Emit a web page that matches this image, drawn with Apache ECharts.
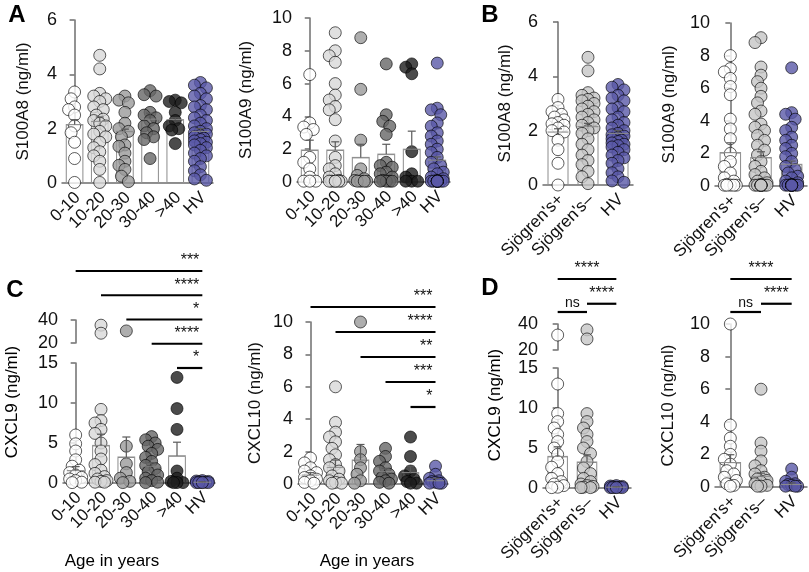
<!DOCTYPE html>
<html>
<head>
<meta charset="utf-8">
<script src="https://cdn.jsdelivr.net/npm/echarts@6/dist/echarts.min.js"></script>
<style>
  html, body { margin: 0; padding: 0; background: #fff; }
  #chart { width: 809px; height: 572px; }
</style>
</head>
<body>
<div id="chart"></div>
<script>
// groups
const ageGroups = ['0-10', '10-20', '20-30', '30-40', '>40', 'HV'];
const sjGroups = ["Sjögren's+", "Sjögren's–", 'HV'];

// healthy volunteers, shared by the age and Sjögren's panels
const hvS100a8 = [3.7, 3.6, 3.5, 3.3, 3.2, 3.1, 2.85, 2.8, 2.7, 2.5, 2.4, 2.3, 2.2, 2.1, 2.0, 1.9, 1.85, 1.8, 1.75, 1.7, 1.65, 1.6, 1.55, 1.5, 1.45, 1.4, 1.3, 1.2, 1.1, 1.0, 0.9, 0.8, 0.6, 0.45, 0.3, 0.15, 0.1];
const hvS100a9 = [7.25, 4.5, 4.4, 4.1, 3.6, 3.4, 3.0, 2.8, 2.5, 2.3, 2.0, 1.8, 1.5, 1.2, 1.0, 0.8, 0.6, 0.5, 0.3, 0.2, 0.1, 0.05, 0.05, 0.05, 0.05, 0.05, 0.05, 0.05, 0.05, 0.05, 0.05];
const hvCxcl9 = [0.3, 0.25, 0.2, 0.15, 0.1, 0.1, 0.05, 0.05, 0.05, 0.05];
const hvCxcl10 = [1.1, 0.6, 0.35, 0.2, 0.15, 0.1, 0.05, 0.05, 0.05];

// individual values (ng/ml), one list per group
const s100a8Age = [
  [3.35, 3.1, 2.8, 2.7, 2.5, 2.1, 1.85, 1.5, 0.9, 0.02],
  [4.7, 4.2, 3.3, 3.2, 3.1, 3.0, 2.8, 2.7, 2.5, 2.35, 2.3, 2.2, 2.1, 1.9, 1.8, 1.7, 1.5, 1.3, 1.15, 1.0, 0.8, 0.5, 0.02],
  [3.2, 3.05, 2.95, 2.6, 2.2, 2.0, 1.9, 1.7, 1.4, 1.35, 1.1, 0.8, 0.65, 0.5, 0.25, 0.05],
  [3.4, 3.25, 3.2, 2.6, 2.5, 2.4, 2.3, 2.1, 2.0, 1.85, 1.7, 1.6, 0.9],
  [3.05, 3.0, 2.95, 2.6, 2.3, 2.1, 2.0, 1.95, 1.45],
  hvS100a8
];
const s100a9Age = [
  [6.55, 3.6, 3.35, 3.2, 2.9, 1.5, 1.2, 0.8, 0.3, 0.05, 0.05, 0.05],
  [9.1, 8.0, 7.7, 7.3, 6.0, 5.3, 5.0, 4.6, 4.4, 3.8, 2.5, 1.5, 1.0, 0.8, 0.5, 0.3, 0.1, 0.05, 0.05, 0.05, 0.05, 0.05, 0.05],
  [8.8, 5.65, 2.55, 0.8, 0.4, 0.2, 0.1, 0.05, 0.05, 0.05, 0.05],
  [7.2, 4.1, 3.7, 3.4, 2.9, 1.2, 1.0, 0.9, 0.6, 0.5, 0.3, 0.1, 0.05, 0.05, 0.05, 0.05],
  [7.2, 7.0, 6.6, 1.85, 0.5, 0.3, 0.05, 0.05, 0.05],
  hvS100a9
];
const s100a8Sj = [
  [3.15, 2.85, 2.7, 2.6, 2.5, 2.4, 2.3, 2.25, 2.2, 2.1, 2.0, 1.95, 1.65, 1.3, 0.8, 0.0],
  [4.7, 4.2, 3.4, 3.3, 3.2, 3.15, 3.1, 3.0, 2.9, 2.8, 2.7, 2.6, 2.5, 2.4, 2.3, 2.2, 2.1, 2.0, 1.9, 1.7, 1.5, 1.3, 1.1, 0.9, 0.75, 0.5, 0.3, 0.05],
  hvS100a8
];
const s100a9Sj = [
  [8.0, 7.2, 7.0, 6.6, 6.1, 5.6, 4.1, 3.5, 2.9, 2.0, 1.5, 1.2, 0.8, 0.5, 0.3, 0.1, 0.05, 0.05, 0.05, 0.05, 0.05],
  [9.1, 8.8, 7.3, 6.8, 6.4, 6.0, 5.5, 5.1, 4.6, 4.4, 3.8, 3.6, 3.4, 3.1, 2.8, 2.5, 2.2, 1.9, 1.5, 1.2, 0.9, 0.7, 0.5, 0.3, 0.2, 0.1, 0.05, 0.05, 0.05, 0.05, 0.05, 0.05, 0.05, 0.05, 0.05],
  hvS100a9
];
const cxcl9Age = [
  [6.0, 4.9, 4.0, 2.9, 2.1, 1.6, 1.3, 1.0, 0.7, 0.5, 0.3, 0.1, 0.05],
  [35.5, 28.5, 9.2, 7.8, 7.5, 6.7, 6.2, 5.0, 4.0, 3.0, 2.3, 1.6, 1.2, 0.8, 0.5, 0.3, 0.2, 0.1, 0.1],
  [30.5, 4.6, 2.4, 1.3, 0.6, 0.2, 0.05],
  [5.8, 5.4, 5.0, 4.6, 4.2, 3.7, 3.2, 2.7, 2.2, 1.8, 1.4, 1.0, 0.6, 0.3, 0.1, 0.05],
  [13.2, 9.3, 6.7, 1.5, 0.6, 0.2, 0.05, 0.05, 0.05],
  hvCxcl9
];
const cxcl10Age = [
  [1.6, 1.3, 1.0, 0.8, 0.7, 0.5, 0.4, 0.3, 0.2, 0.1, 0.05],
  [6.0, 3.8, 3.2, 2.9, 2.6, 2.2, 1.8, 1.5, 1.2, 1.0, 0.8, 0.5, 0.3, 0.2, 0.1, 0.05, 0.05],
  [10.0, 2.0, 1.5, 1.0, 0.6, 0.2, 0.05],
  [2.2, 1.7, 1.4, 1.0, 0.8, 0.6, 0.4, 0.3, 0.2, 0.1, 0.05],
  [2.9, 1.7, 0.8, 0.5, 0.3, 0.15, 0.05, 0.05],
  hvCxcl10
];
const cxcl9Sj = [
  [31.5, 13.0, 9.3, 8.3, 7.5, 6.7, 5.8, 5.0, 4.2, 3.3, 2.6, 1.8, 1.2, 0.8, 0.5, 0.3, 0.1, 0.05],
  [35.5, 28.5, 9.3, 8.3, 7.5, 6.7, 5.8, 5.0, 4.3, 3.3, 2.5, 1.8, 1.2, 0.8, 0.5, 0.3, 0.2, 0.1, 0.05, 0.05],
  hvCxcl9
];
const cxcl10Sj = [
  [10.0, 3.8, 3.0, 2.5, 2.0, 1.7, 1.4, 1.0, 0.8, 0.6, 0.4, 0.2, 0.1, 0.05],
  [6.0, 2.7, 2.2, 1.6, 1.3, 1.0, 0.8, 0.6, 0.5, 0.4, 0.3, 0.2, 0.1, 0.05, 0.05],
  hvCxcl10
];

// bar heights (mean) and error bars (SEM)
const s100a8AgeMean = [2.15, 2.27, 1.9, 2.35, 2.33, 1.9];
const s100a8AgeSem = [0.18, 0.16, 0.08, 0.22, 0.07, 0.1];
const s100a9AgeMean = [1.95, 1.95, 1.5, 1.7, 2.0, 1.33];
const s100a9AgeSem = [0.6, 0.5, 0.8, 0.6, 1.1, 0.2];
const s100a8SjMean = [1.95, 2.15, 1.9];
const s100a8SjSem = [0.12, 0.12, 0.1];
const s100a9SjMean = [2.05, 1.75, 1.33];
const s100a9SjSem = [0.6, 0.35, 0.2];
const cxcl9AgeMean = [1.55, 4.7, 3.25, 2.1, 3.4, 0.1];
const cxcl9AgeSem = [0.5, 1.4, 2.5, 0.45, 1.7, 0.05];
const cxcl10AgeMean = [0.55, 1.03, 1.48, 0.76, 0.7, 0.2];
const cxcl10AgeSem = [0.15, 0.45, 0.96, 0.21, 0.4, 0.15];
const cxcl9SjMean = [3.95, 3.25, 0.1];
const cxcl9SjSem = [1.2, 0.9, 0.05];
const cxcl10SjMean = [1.5, 0.65, 0.15];
const cxcl10SjSem = [0.48, 0.2, 0.1];

// significance bars: [from group, to group, level]
const cxcl9AgeSig = [[0, 5, 4], [1, 5, 3], [2, 5, 2], [3, 5, 1], [4, 5, 0]];
const cxcl9AgeSigText = ['***', '****', '*', '****', '*'];
const cxcl10AgeSig = [[0, 5, 4], [1, 5, 3], [2, 5, 2], [3, 5, 1], [4, 5, 0]];
const cxcl10AgeSigText = ['***', '****', '**', '***', '*'];
const cxcl9SjSig = [[0, 2, 2], [0, 1, 0], [1, 2, 0.5]];
const cxcl9SjSigText = ['****', 'ns', '****'];
const cxcl10SjSig = [[0, 2, 2], [0, 1, 0], [1, 2, 0.5]];
const cxcl10SjSigText = ['****', 'ns', '****'];

const ageColors = ['#ffffff', '#d8d8d8', '#9a9a9a', '#666666', '#1e1e1e', '#5a59a8'];
const sjColors = ['#ffffff', '#c6c6c6', '#5a59a8'];

const FONT = "'Liberation Sans', Arial, sans-serif";
const AXIS = '#6e6e6e';
const DOT = 12;

let chart = echarts.init(document.getElementById('chart'));

const grids = [], xAxes = [], yAxes = [], series = [];

function addGrid(box) {
  return grids.push({ left: box[0], top: box[1], width: box[2], height: box[3], outerBoundsMode: 'none', containLabel: false }) - 1;
}

function valueY(g, min, max, step, show) {
  return {
    type: 'value', gridIndex: g, min: min, max: max, interval: step, show: show,
    axisLine: { show: true, lineStyle: { color: AXIS, width: 1.5 } },
    axisTick: { show: true, length: 5, lineStyle: { color: AXIS, width: 1.5 } },
    axisLabel: { fontSize: 18, color: '#111', margin: 5, fontFamily: FONT },
    splitLine: { show: false }
  };
}

// simple beeswarm: nudge dots sideways when they would overlap too much
function swarm(groups, colors, keep, yMin, pxY, pxCat) {
  const out = [];
  groups.forEach((vals, gi) => {
    const placed = [];
    vals.filter(keep).slice().sort((a, b) => b - a).forEach(v => {
      const y = (v - yMin) * pxY;
      let best = 0, bestD = -1;
      for (const c of [0, -3.5, 3.5, -6, 6]) {
        let d = Infinity;
        placed.forEach(q => { d = Math.min(d, Math.hypot(q[0] - c, q[1] - y)); });
        if (d >= 7) { best = c; break; }
        if (d > bestD) { bestD = d; best = c; }
      }
      placed.push([best, y]);
      out.push({ value: [gi + best / pxCat, v], itemStyle: { color: colors[gi] } });
    });
  });
  return out;
}

function errorBar(params, api) {
  const i = api.value(0), m = api.value(1), s = api.value(2);
  const base = api.coord([i, m]);
  const top = api.coord([i, m + s]);
  const bw = api.size([1, 0])[0] * 0.7;
  const st = { stroke: '#5a5a5a', lineWidth: 1.2 };
  return {
    type: 'group', children: [
      { type: 'line', shape: { x1: base[0] - bw / 2, y1: base[1], x2: base[0] + bw / 2, y2: base[1] }, style: { stroke: '#8c8c8c', lineWidth: 1 } },
      { type: 'line', shape: { x1: base[0], y1: base[1], x2: top[0], y2: top[1] }, style: st },
      { type: 'line', shape: { x1: top[0] - 4, y1: top[1], x2: top[0] + 4, y2: top[1] }, style: st }
    ]
  };
}

// slanted category names, anchored under each category
function catLabels(cats) {
  return function (params, api) {
    const p = api.coord([api.value(0), 0]);
    return { type: 'text', x: p[0] + 3, y: p[1] + 12, rotation: Math.PI / 4,
      style: { text: cats[params.dataIndex], align: 'right', verticalAlign: 'middle',
        font: '17px ' + FONT, fill: '#111' } };
  };
}

function addPanel(p) {
  const n = p.cats.length;
  const g = addGrid(p.box);
  const xc = xAxes.push({
    type: 'category', gridIndex: g, data: p.cats,
    axisLine: { show: true, lineStyle: { color: AXIS, width: 1.5 } },
    axisTick: { show: false },
    axisLabel: { show: false }
  }) - 1;
  const xv = xAxes.push({ type: 'value', gridIndex: g, min: -0.5, max: n - 0.5, show: false }) - 1;
  const ya = valueY(g, 0, p.yMax, p.yStep, true);
  if (p.yName) {
    Object.assign(ya, { name: p.yName, nameLocation: 'middle', nameGap: p.nameGap,
      nameTextStyle: { fontSize: 17, color: '#111', fontFamily: FONT } });
  }
  const yi = yAxes.push(ya) - 1;
  const pxY = p.box[3] / p.yMax, pxCat = p.box[2] / n;
  series.push({ type: 'bar', xAxisIndex: xc, yAxisIndex: yi, data: p.mean, barWidth: '70%',
    itemStyle: { color: '#fff', borderColor: '#8c8c8c', borderWidth: 1 }, z: 1, silent: true });
  series.push({ type: 'scatter', xAxisIndex: xv, yAxisIndex: yi, clip: false, symbolSize: DOT,
    itemStyle: { borderColor: '#000', borderWidth: 0.8 }, z: 2,
    data: swarm(p.dots, p.colors, v => v <= p.yMax, 0, pxY, pxCat) });
  series.push({ type: 'custom', xAxisIndex: xc, yAxisIndex: yi, z: 3,
    data: p.mean.map((m, i) => [i, m, p.sem[i]]), renderItem: errorBar });
  series.push({ type: 'custom', xAxisIndex: xc, yAxisIndex: yi, z: 3, clip: false,
    data: p.cats.map((c, i) => [i, 0]), renderItem: catLabels(p.cats) });

  if (p.brk) {
    const gu = addGrid(p.brk.box);
    const xu = xAxes.push({ type: 'value', gridIndex: gu, min: -0.5, max: n - 0.5, show: false }) - 1;
    const yu = yAxes.push(valueY(gu, p.brk.min, p.brk.max, p.brk.step, true)) - 1;
    series.push({ type: 'scatter', xAxisIndex: xu, yAxisIndex: yu, clip: false, symbolSize: DOT,
      itemStyle: { borderColor: '#000', borderWidth: 0.8 }, z: 2,
      data: swarm(p.dots, p.colors, v => v > p.yMax, p.brk.min, p.brk.box[3] / (p.brk.max - p.brk.min), pxCat) });
  }
}

function addSig(box, n, levMax, rows, labels, align) {
  const g = addGrid(box);
  const xv = xAxes.push({ type: 'value', gridIndex: g, min: -0.5, max: n - 0.5, show: false }) - 1;
  const yi = yAxes.push({ type: 'value', gridIndex: g, min: 0, max: levMax, show: false }) - 1;
  series.push({
    type: 'custom', xAxisIndex: xv, yAxisIndex: yi, z: 5, data: rows,
    renderItem: (params, api) => {
      const lv = api.value(2);
      const a = api.coord([api.value(0), lv]);
      const b = api.coord([api.value(1), lv]);
      const tx = align === 'right' ? b[0] - 3 : (a[0] + b[0]) / 2;
      const txt = labels[params.dataIndex];
      return {
        type: 'group', children: [
          { type: 'line', shape: { x1: a[0], y1: a[1], x2: b[0], y2: b[1] }, style: { stroke: '#000', lineWidth: 2.2 } },
          { type: 'text', style: { text: txt, x: tx, y: a[1] - 2, align: align,
            verticalAlign: 'bottom', font: (txt === 'ns' ? 14 : 16) + 'px ' + FONT, fill: '#111' } }
        ]
      };
    }
  });
}

// A
addPanel({ box: [62, 20, 151, 163], cats: ageGroups, colors: ageColors, dots: s100a8Age,
  mean: s100a8AgeMean, sem: s100a8AgeSem, yMax: 6, yStep: 2, yName: 'S100A8 (ng/ml)', nameGap: 30 });
addPanel({ box: [297, 18, 153, 164], cats: ageGroups, colors: ageColors, dots: s100a9Age,
  mean: s100a9AgeMean, sem: s100a9AgeSem, yMax: 10, yStep: 2, yName: 'S100A9 (ng/ml)', nameGap: 42 });
// B
addPanel({ box: [543, 22, 90, 163], cats: sjGroups, colors: sjColors, dots: s100a8Sj,
  mean: s100a8SjMean, sem: s100a8SjSem, yMax: 6, yStep: 2, yName: 'S100A8 (ng/ml)', nameGap: 29 });
addPanel({ box: [715, 23, 92, 163], cats: sjGroups, colors: sjColors, dots: s100a9Sj,
  mean: s100a9SjMean, sem: s100a9SjSem, yMax: 10, yStep: 2, yName: 'S100A9 (ng/ml)', nameGap: 37 });
// C
addPanel({ box: [63, 363, 152, 120], cats: ageGroups, colors: ageColors, dots: cxcl9Age,
  mean: cxcl9AgeMean, sem: cxcl9AgeSem, yMax: 15, yStep: 5,
  brk: { box: [63, 320, 152, 23], min: 20, max: 40, step: 20 } });
addPanel({ box: [298, 322, 150, 162], cats: ageGroups, colors: ageColors, dots: cxcl10Age,
  mean: cxcl10AgeMean, sem: cxcl10AgeSem, yMax: 10, yStep: 2, yName: 'CXCL10 (ng/ml)', nameGap: 34 });
// D
addPanel({ box: [543, 368, 88, 120], cats: sjGroups, colors: sjColors, dots: cxcl9Sj,
  mean: cxcl9SjMean, sem: cxcl9SjSem, yMax: 15, yStep: 5,
  brk: { box: [543, 324, 88, 26], min: 20, max: 40, step: 20 } });
addPanel({ box: [715, 324, 92, 163], cats: sjGroups, colors: sjColors, dots: cxcl10Sj,
  mean: cxcl10SjMean, sem: cxcl10SjSem, yMax: 10, yStep: 2, yName: 'CXCL10 (ng/ml)', nameGap: 38 });

addSig([63, 271, 152, 97], 6, 4, cxcl9AgeSig, cxcl9AgeSigText, 'right');
addSig([298, 307, 150, 100], 6, 4, cxcl10AgeSig, cxcl10AgeSigText, 'right');
addSig([543, 279, 88, 33], 3, 2, cxcl9SjSig, cxcl9SjSigText, 'center');
addSig([715, 279, 92, 33], 3, 2, cxcl10SjSig, cxcl10SjSigText, 'center');

function label(text, x, y, size, bold, rot) {
  return { type: 'text', x: x, y: y, rotation: rot || 0,
    style: { text: text, font: (bold ? 'bold ' : '') + size + 'px ' + FONT, fill: '#000',
      align: 'center', verticalAlign: 'middle' } };
}

let option = {
  animation: false,
  grid: grids,
  xAxis: xAxes,
  yAxis: yAxes,
  series: series,
  graphic: [
    label('A', 17, 15, 24, true),
    label('B', 490, 15, 24, true),
    label('C', 15, 290, 24, true),
    label('D', 490, 288, 24, true),
    label('Age in years', 112, 561, 17),
    label('Age in years', 367, 561, 17),
    label('CXCL9 (ng/ml)', 12, 402, 17, false, Math.PI / 2),
    label('CXCL9 (ng/ml)', 495, 405, 17, false, Math.PI / 2)
  ]
};

chart.setOption(option);
</script>
</body>
</html>
